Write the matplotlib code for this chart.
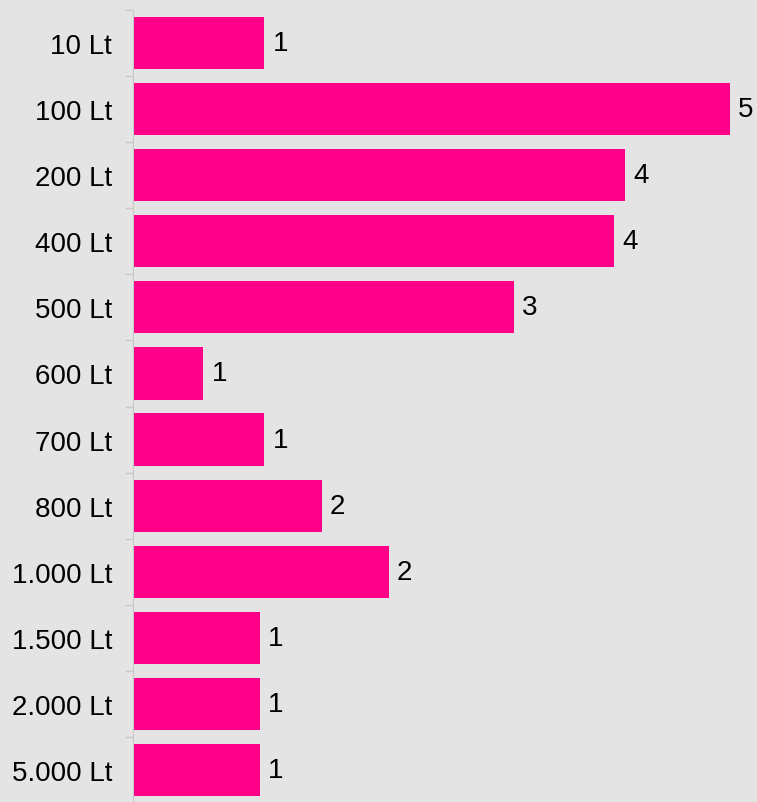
#!/usr/bin/env python3

import numpy as np
import matplotlib.pyplot as plt

categories = ['10 Lt', '100 Lt', '200 Lt', '400 Lt', '500 Lt', '600 Lt', '700 Lt',
              '800 Lt', '1.000 Lt', '1.500 Lt', '2.000 Lt', '5.000 Lt']
values = [1.10, 5.0, 4.12, 4.03, 3.19, 0.59, 1.10, 1.58, 2.14, 1.06, 1.06, 1.06]
value_labels = ['1', '5', '4', '4', '3', '1', '1', '2', '2', '1', '1', '1']

bg = '#e4e4e4'
bar_color = '#ff0088'

fig = plt.figure(figsize=(7.57, 8.03), dpi=100, facecolor=bg)
ax = fig.add_axes([133 / 757, -1 / 803, 624 / 757, 1 - 10 / 803])
ax.set_facecolor(bg)

y = np.arange(len(categories))
ax.barh(y, values, height=0.79, color=bar_color)
ax.set_ylim(len(categories) - 0.5, -0.5)
ax.set_xlim(0, 5.0 * 624 / 597)

for yi, v, lab in zip(y, values, value_labels):
    ax.text(v + 0.07, yi, lab, va='center', ha='left', fontsize=20,
            family='Liberation Sans', color='black')

ax.set_yticks(y)
ax.set_yticklabels(categories, fontsize=20, family='Liberation Sans')
ax.tick_params(axis='y', which='major', length=0, pad=15)
ax.set_yticks(np.arange(-0.5, len(categories), 1), minor=True)
ax.tick_params(axis='y', which='minor', length=6, color='#c8c8c8', width=1)
ax.set_xticks([])

for side in ['top', 'right', 'bottom']:
    ax.spines[side].set_visible(False)
ax.spines['left'].set_color('#c8c8c8')

plt.savefig('out.png', facecolor=bg)
